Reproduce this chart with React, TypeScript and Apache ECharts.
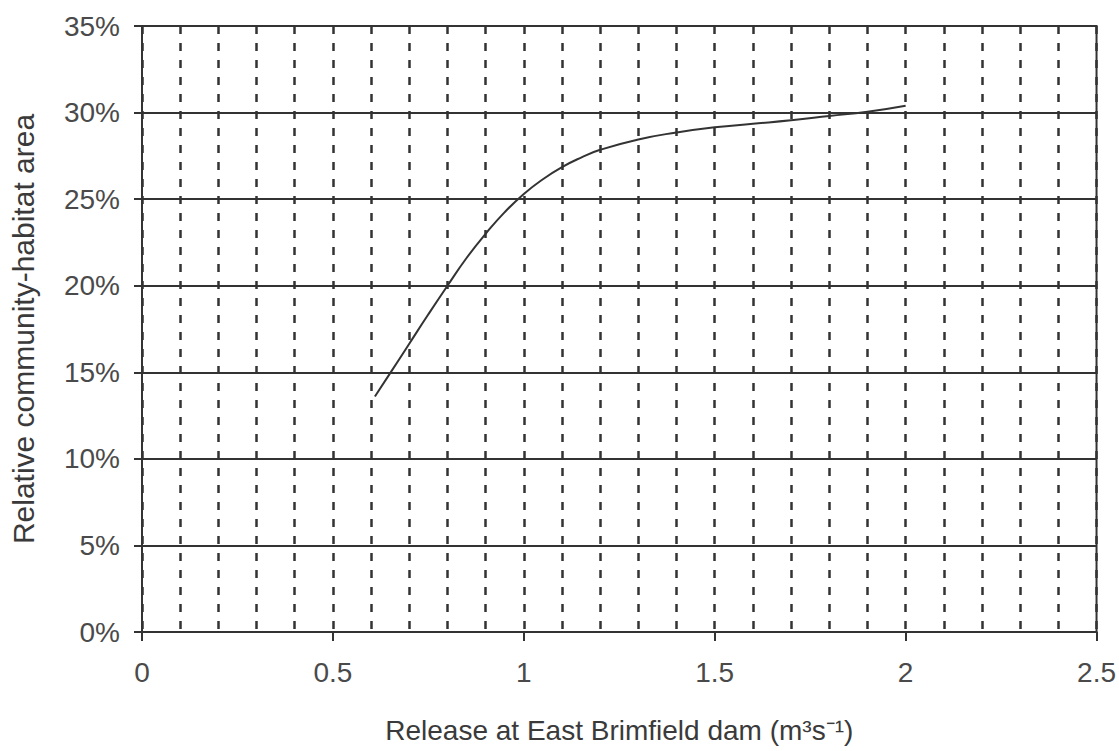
import React, { useEffect, useRef } from "react";
import * as echarts from "echarts";

// Release at East Brimfield dam (m³/s) and relative community-habitat area (%)
const release = [0.61, 0.65, 0.7, 0.75, 0.8, 0.85, 0.9, 0.95, 1.0, 1.05, 1.1, 1.15, 1.2, 1.3, 1.4, 1.5, 1.6, 1.7, 1.8, 1.9, 2.0];
const habitatArea = [13.6, 14.95, 16.65, 18.35, 20.0, 21.6, 23.0, 24.25, 25.3, 26.15, 26.85, 27.4, 27.85, 28.45, 28.85, 29.15, 29.35, 29.55, 29.8, 30.05, 30.4];

const xTitle = "Release at East Brimfield dam (m³s⁻¹)";
const yTitle = "Relative community-habitat area";

const FONT = "'Liberation Sans', Arial, sans-serif";
const INK = "#333";

export default function App() {
  const ref = useRef<HTMLDivElement>(null);

  useEffect(() => {
    if (!ref.current) return;
    const chart = echarts.init(ref.current, undefined, { renderer: "svg" });
    chart.setOption({
      animation: false,
      backgroundColor: "#fff",
      grid: {
        left: 140,
        right: 22,
        top: 26,
        bottom: 119,
        show: true,
        borderColor: INK,
        borderWidth: 2,
        containLabel: false,
      },
      xAxis: {
        type: "value",
        min: 0,
        max: 2.5,
        interval: 0.5,
        name: xTitle,
        nameLocation: "middle",
        nameGap: 84,
        nameTextStyle: { fontFamily: FONT, fontSize: 28, color: "#3a3a3a" },
        axisLine: { show: true, onZero: false, lineStyle: { color: INK, width: 2 } },
        axisTick: { show: true, inside: false, length: 9, lineStyle: { color: INK, width: 2 } },
        axisLabel: {
          fontFamily: FONT,
          fontSize: 28,
          color: "#4a4a4a",
          margin: 26,
          formatter: (v: number) => String(v),
        },
        splitLine: { show: true, lineStyle: { color: INK, width: 2.5, type: [8, 9] } },
        minorTick: { show: false, splitNumber: 5 },
        minorSplitLine: { show: true, lineStyle: { color: INK, width: 2.5, type: [8, 9] } },
      },
      yAxis: {
        type: "value",
        min: 0,
        max: 35,
        interval: 5,
        name: yTitle,
        nameLocation: "middle",
        nameRotate: 90,
        nameGap: 104,
        nameTextStyle: { fontFamily: FONT, fontSize: 30, color: "#3a3a3a" },
        axisLine: { show: true, lineStyle: { color: INK, width: 2 } },
        axisTick: { show: true, inside: false, length: 8, lineStyle: { color: INK, width: 2 } },
        axisLabel: {
          fontFamily: FONT,
          fontSize: 28,
          color: "#4a4a4a",
          margin: 22,
          formatter: "{value}%",
        },
        splitLine: { show: true, lineStyle: { color: INK, width: 2 } },
      },
      series: [
        {
          type: "line",
          data: release.map((x, i) => [x, habitatArea[i]]),
          smooth: 0.5,
          showSymbol: false,
          lineStyle: { color: INK, width: 2 },
        },
      ],
    });
    return () => chart.dispose();
  }, []);

  return (
    <div
      ref={ref}
      style={{ position: "absolute", left: 0, top: 0, width: 1119, height: 751 }}
    />
  );
}
